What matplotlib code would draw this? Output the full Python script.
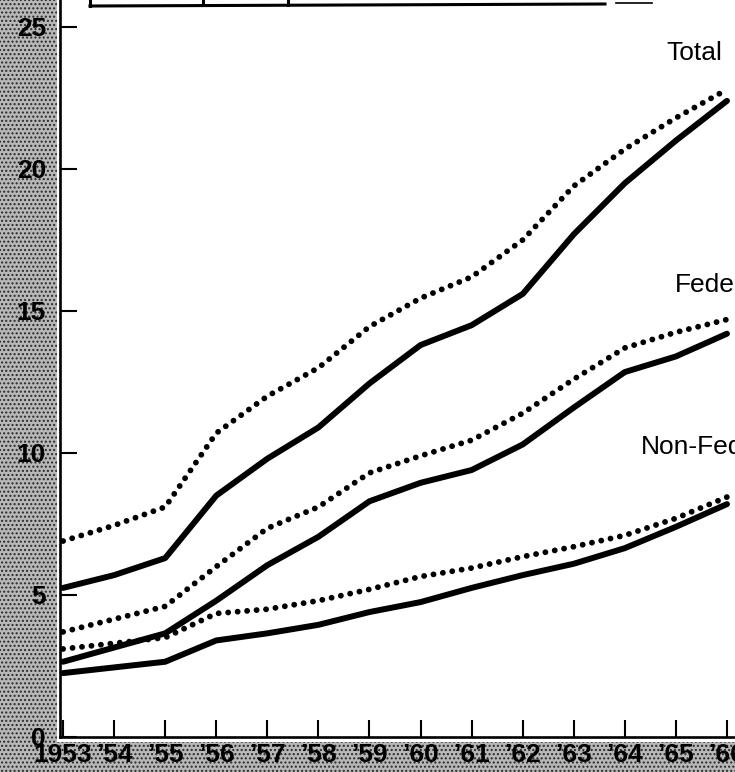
import matplotlib
matplotlib.use("Agg")
import matplotlib.pyplot as plt
from matplotlib.patches import Rectangle
from matplotlib.lines import Line2D

# ---- data ----
years = [1953, 1954, 1955, 1956, 1957, 1958, 1959, 1960, 1961, 1962, 1963, 1964, 1965, 1966]
year_labels = ["1953", "’54", "’55", "’56", "’57", "’58", "’59", "’60", "’61", "’62", "’63", "’64", "’65", "’66"]

total_solid = [5.25, 5.7, 6.3, 8.5, 9.8, 10.9, 12.45, 13.8, 14.5, 15.6, 17.7, 19.5, 21.0, 22.4]
total_dotted = [6.9, 7.45, 8.1, 10.7, 12.0, 13.0, 14.45, 15.45, 16.2, 17.5, 19.4, 20.7, 21.8, 22.8]
federal_solid = [2.65, 3.15, 3.65, 4.8, 6.05, 7.05, 8.3, 8.95, 9.4, 10.3, 11.6, 12.85, 13.4, 14.2]
federal_dotted = [3.7, 4.15, 4.6, 6.0, 7.35, 8.1, 9.3, 9.9, 10.45, 11.4, 12.6, 13.7, 14.25, 14.7]
nonfed_solid = [2.25, 2.45, 2.65, 3.4, 3.65, 3.95, 4.4, 4.75, 5.25, 5.7, 6.1, 6.65, 7.4, 8.2]
nonfed_dotted = [3.1, 3.3, 3.5, 4.35, 4.5, 4.8, 5.2, 5.65, 5.95, 6.35, 6.7, 7.1, 7.7, 8.45]

y_ticks = [0, 5, 10, 15, 20, 25]
series_labels = ["Total", "Federal", "Non-Federal"]

W, H = 735, 772
fig = plt.figure(figsize=(W / 100, H / 100), dpi=100)
fig.patch.set_facecolor("white")

# stippled scan background (left strip and bottom strip)
for (x0, y0, w, h) in [(0, 0, 57 / W, 1), (0, 0, 1, 30 / H)]:
    fig.patches.append(Rectangle((x0, y0), w, h, transform=fig.transFigure,
                                 facecolor="#b8b8b8", edgecolor="#2a2a2a",
                                 hatch="....", linewidth=0, zorder=-5))

ax = fig.add_axes([60 / W, 35 / H, 675 / W, 737 / H])
ax.patch.set_alpha(0)
ax.set_xlim(1952.94, 1966.157)
ax.set_ylim(0, 25.95)

solid_kw = dict(color="black", lw=4.3, solid_capstyle="round", solid_joinstyle="round")
dot_kw = dict(color="black", lw=4.2, linestyle=(0, (0.01, 1.62)), dash_capstyle="round")

ax.plot(years, total_solid, **solid_kw)
ax.plot(years, total_dotted, **dot_kw)
ax.plot(years, federal_solid, **solid_kw)
ax.plot(years, federal_dotted, **dot_kw)
ax.plot(years, nonfed_solid, **solid_kw)
ax.plot(years, nonfed_dotted, **dot_kw)

for s in ["top", "right"]:
    ax.spines[s].set_visible(False)
for s in ["left", "bottom"]:
    ax.spines[s].set_linewidth(1.9)

ax.set_xticks(years)
ax.set_xticklabels(year_labels)
ax.set_yticks(y_ticks)
ax.set_yticklabels([str(v) for v in y_ticks])
ax.tick_params(axis="both", direction="in", length=12.2, width=1.5, color="black")
ax.tick_params(axis="x", pad=4)
ax.tick_params(axis="y", pad=10)
for lab in ax.get_xticklabels() + ax.get_yticklabels():
    lab.set_fontfamily("Liberation Sans")
    lab.set_fontweight("bold")
    lab.set_fontsize(19)
    lab.set_color("black")

# series labels (cut by the right edge, as in the scan)
ax.text(1964.82, 24.08, series_labels[0], fontsize=19, family="Liberation Sans",
        ha="left", va="center", clip_on=False)
ax.text(1964.98, 15.9, series_labels[1], fontsize=19, family="Liberation Sans",
        ha="left", va="center", clip_on=False)
ax.text(1964.32, 10.2, series_labels[2], fontsize=19, family="Liberation Sans",
        ha="left", va="center", clip_on=False)

# remains of a table frame at the top of the scan
def fl(x0, y0, x1, y1, lw=2.2):
    fig.add_artist(Line2D([x0 / W, x1 / W], [1 - y0 / H, 1 - y1 / H],
                          transform=fig.transFigure, color="black", lw=lw))

fl(90, 6, 605, 4)
fl(616, 3, 652, 3, lw=1.2)
fl(90, 0, 90, 6)
fl(203, 0, 203, 5)
fl(288, 0, 288, 5)

fig.savefig("out.png", dpi=100)
